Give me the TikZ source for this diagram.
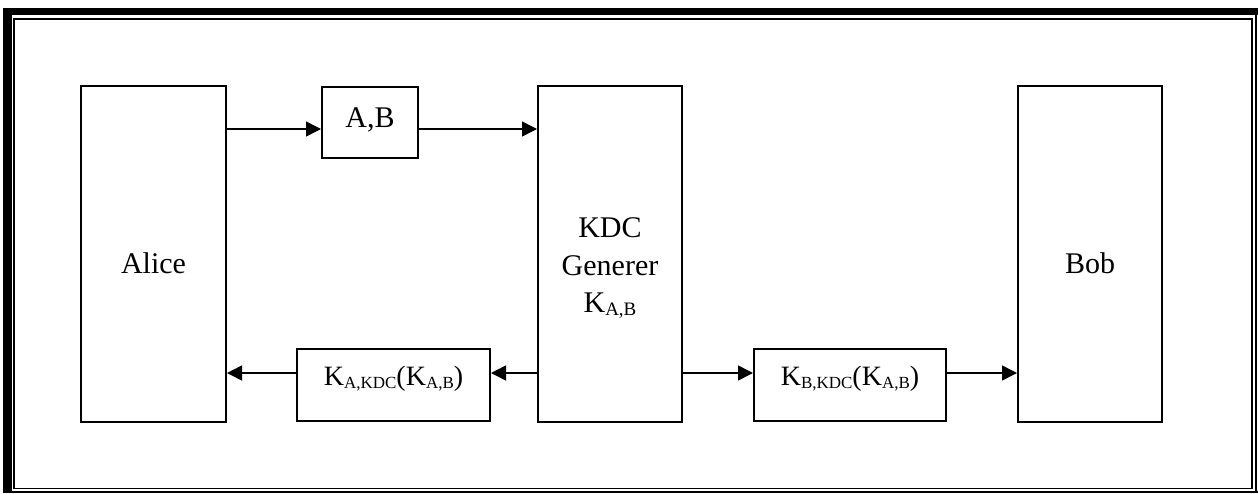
\documentclass[tikz,border=0pt]{standalone}
\usepackage{fontspec}
\setmainfont{Liberation Serif}
\usetikzlibrary{arrows.meta}
\newcommand{\lsub}[1]{\raisebox{-3pt}{\fontsize{17}{17}\selectfont #1}}
\newcommand{\bsub}[1]{\raisebox{-3pt}{\fontsize{19}{19}\selectfont #1}}
\begin{document}
\begin{tikzpicture}[x=1pt,y=-1pt,
  box/.style={draw, line width=2pt, inner sep=0pt},
  lbl/.style={anchor=base, inner sep=0pt, font=\fontsize{30}{36}\selectfont},
  klbl/.style={anchor=base, inner sep=0pt, font=\fontsize{28}{34}\selectfont},
  conn/.style={line width=1.5pt, -{Triangle[length=15pt,width=15pt]}}]
\useasboundingbox (0,0) rectangle (1258,493);
% page border
\fill (3,8) rectangle (11.7,493);
\fill (3,8) rectangle (1258,15);
\draw[line width=2pt] (1256,8) -- (1256,493);
\draw[line width=1.5pt] (3,492) -- (1258,492);
\draw[line width=1.8pt] (14.3,19.2) rectangle (1252,488.5);
% boxes
\node[box, minimum width=145pt, minimum height=336pt] (alice) at (153.5,254) {};
\node[box, minimum width=96pt, minimum height=71pt] (ab) at (370,122.5) {};
\node[box, minimum width=144pt, minimum height=336pt] (kdc) at (610,254) {};
\node[box, minimum width=193pt, minimum height=72pt] (ka) at (393.5,385) {};
\node[box, minimum width=192pt, minimum height=72pt] (kb) at (850,385) {};
\node[box, minimum width=144pt, minimum height=336pt] (bob) at (1090,254) {};
% texts
\node[lbl] (talice) at (153.5,273) {Alice};
\node[lbl] (tab) at (370,127) {A,B};
\node[lbl] (tk1) at (610,237) {KDC};
\node[lbl] (tk2) at (610,275) {Generer};
\node[lbl] (tk3) at (610,312) {K\bsub{A,B}};
\node[klbl] (tka) at (393.5,385) {K\lsub{A,KDC}(K\lsub{A,B})};
\node[klbl] (tkb) at (850,385) {K\lsub{B,KDC}(K\lsub{A,B})};
\node[lbl] (tbob) at (1090,273) {Bob};
% connectors
\coordinate (rowtop) at (0,129);
\coordinate (rowbot) at (0,373);
\draw[conn] (alice.east |- rowtop) -- (ab.west |- rowtop);
\draw[conn] (ab.east |- rowtop) -- (kdc.west |- rowtop);
\draw[conn] (kdc.west |- rowbot) -- (ka.east |- rowbot);
\draw[conn] (ka.west |- rowbot) -- (alice.east |- rowbot);
\draw[conn] (kdc.east |- rowbot) -- (kb.west |- rowbot);
\draw[conn] (kb.east |- rowbot) -- (bob.west |- rowbot);
\end{tikzpicture}
\end{document}
